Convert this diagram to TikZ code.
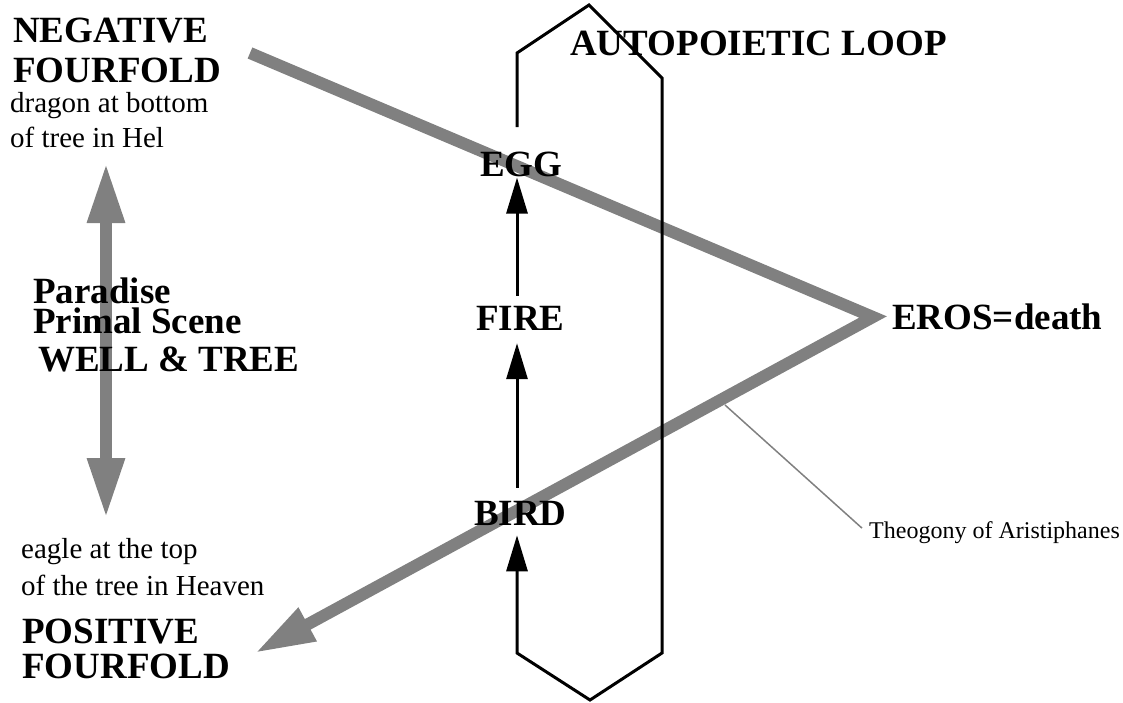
\documentclass[tikz,border=0pt]{standalone}
\usepackage{fontspec}
\setmainfont{Liberation Serif}
\usetikzlibrary{arrows.meta,calc}
\definecolor{tgray}{RGB}{128,128,128}
\begin{document}
\begin{tikzpicture}[x=1pt,y=-1pt,
  big/.style={font=\fontsize{37}{40}\selectfont\bfseries, inner sep=0pt, anchor=base west},
  small/.style={font=\fontsize{29}{33}\selectfont, inner sep=0pt, anchor=base west},
  tiny/.style={font=\fontsize{24}{26}\selectfont, inner sep=0pt, anchor=base west},
  greyline/.style={draw=tgray, line width=12pt, line join=miter, line cap=butt},
  greyhead/.style={-{Triangle[length=60pt,width=35pt]}},
  blackline/.style={draw=black, line width=3pt, line join=miter},
  blackhead/.style={-{Triangle[length=36pt,width=21pt]}},
  leader/.style={draw=tgray, line width=1.5pt}]
\useasboundingbox (0,0) rectangle (1123,702);

% hexagon vertices
\coordinate (h1) at (517,127);
\coordinate (h2) at (517,53);
\coordinate (h3) at (589,5);
\coordinate (h4) at (662,78);
\coordinate (h5) at (662,653);
\coordinate (h6) at (590,700);
\coordinate (h7) at (517,653);

% grey structure coordinates
\coordinate (vstart) at (250,53);
\coordinate (vapex) at (873,317);
\coordinate (vend) at (255,653);
\coordinate (utop) at (106,163);
\coordinate (ubot) at (106,518);
\coordinate (lead) at (725,405);

% grey lines
\draw[greyline, greyhead] (vstart) -- (vapex) -- (vend);
\draw[greyline, {Triangle[length=60pt,width=35pt]}-{Triangle[length=60pt,width=35pt]}] (utop) -- (ubot);

% texts
\node[big] (neg1) at (13,42) {NEGATIVE};
\node[big] (neg2) at (13,82) {FOURFOLD};
\node[small] (drag1) at (10,112) {dragon at bottom};
\node[small] (drag2) at (10,147) {of tree in Hel};
\node[big] (para) at (33,303) {Paradise};
\node[big] (primal) at (33,333) {Primal Scene};
\node[big] (well) at (38,371) {WELL \& TREE};
\node[small] (eagle1) at (21,558) {eagle at the top};
\node[small] (eagle2) at (21,595) {of the tree in Heaven};
\node[big] (pos1) at (22,643) {POSITIVE};
\node[big] (pos2) at (22,678) {FOURFOLD};
\node[big] (auto) at (570,55) {AUTOPOIETIC LOOP};
\node[big] (egg) at (480,176) {EGG};
\node[big] (fire) at (476,330) {FIRE};
\node[big] (bird) at (474,525) {BIRD};
\node[big] (eros) at (892,329) {EROS=death};
\node[tiny] (theo) at (869,538) {Theogony of Aristiphanes};

% hexagon loop ending in arrow into BIRD
\draw[blackline, blackhead] (h1) -- (h2) -- (h3) -- (h4) -- (h5) -- (h6) -- (h7)
  -- ($(bird.south -| h7)+(0,10)$);
% black arrows
\draw[blackline, blackhead] ($(bird.north -| h7)+(0,-13)$) -- ($(fire.south -| h7)+(0,13)$);
\draw[blackline, blackhead] ($(fire.north -| h7)+(0,-10)$) -- ($(egg.south -| h7)+(0,1)$);

% leader
\draw[leader] (lead) -- ([xshift=-7pt,yshift=4pt]theo.west);
\end{tikzpicture}
\end{document}
